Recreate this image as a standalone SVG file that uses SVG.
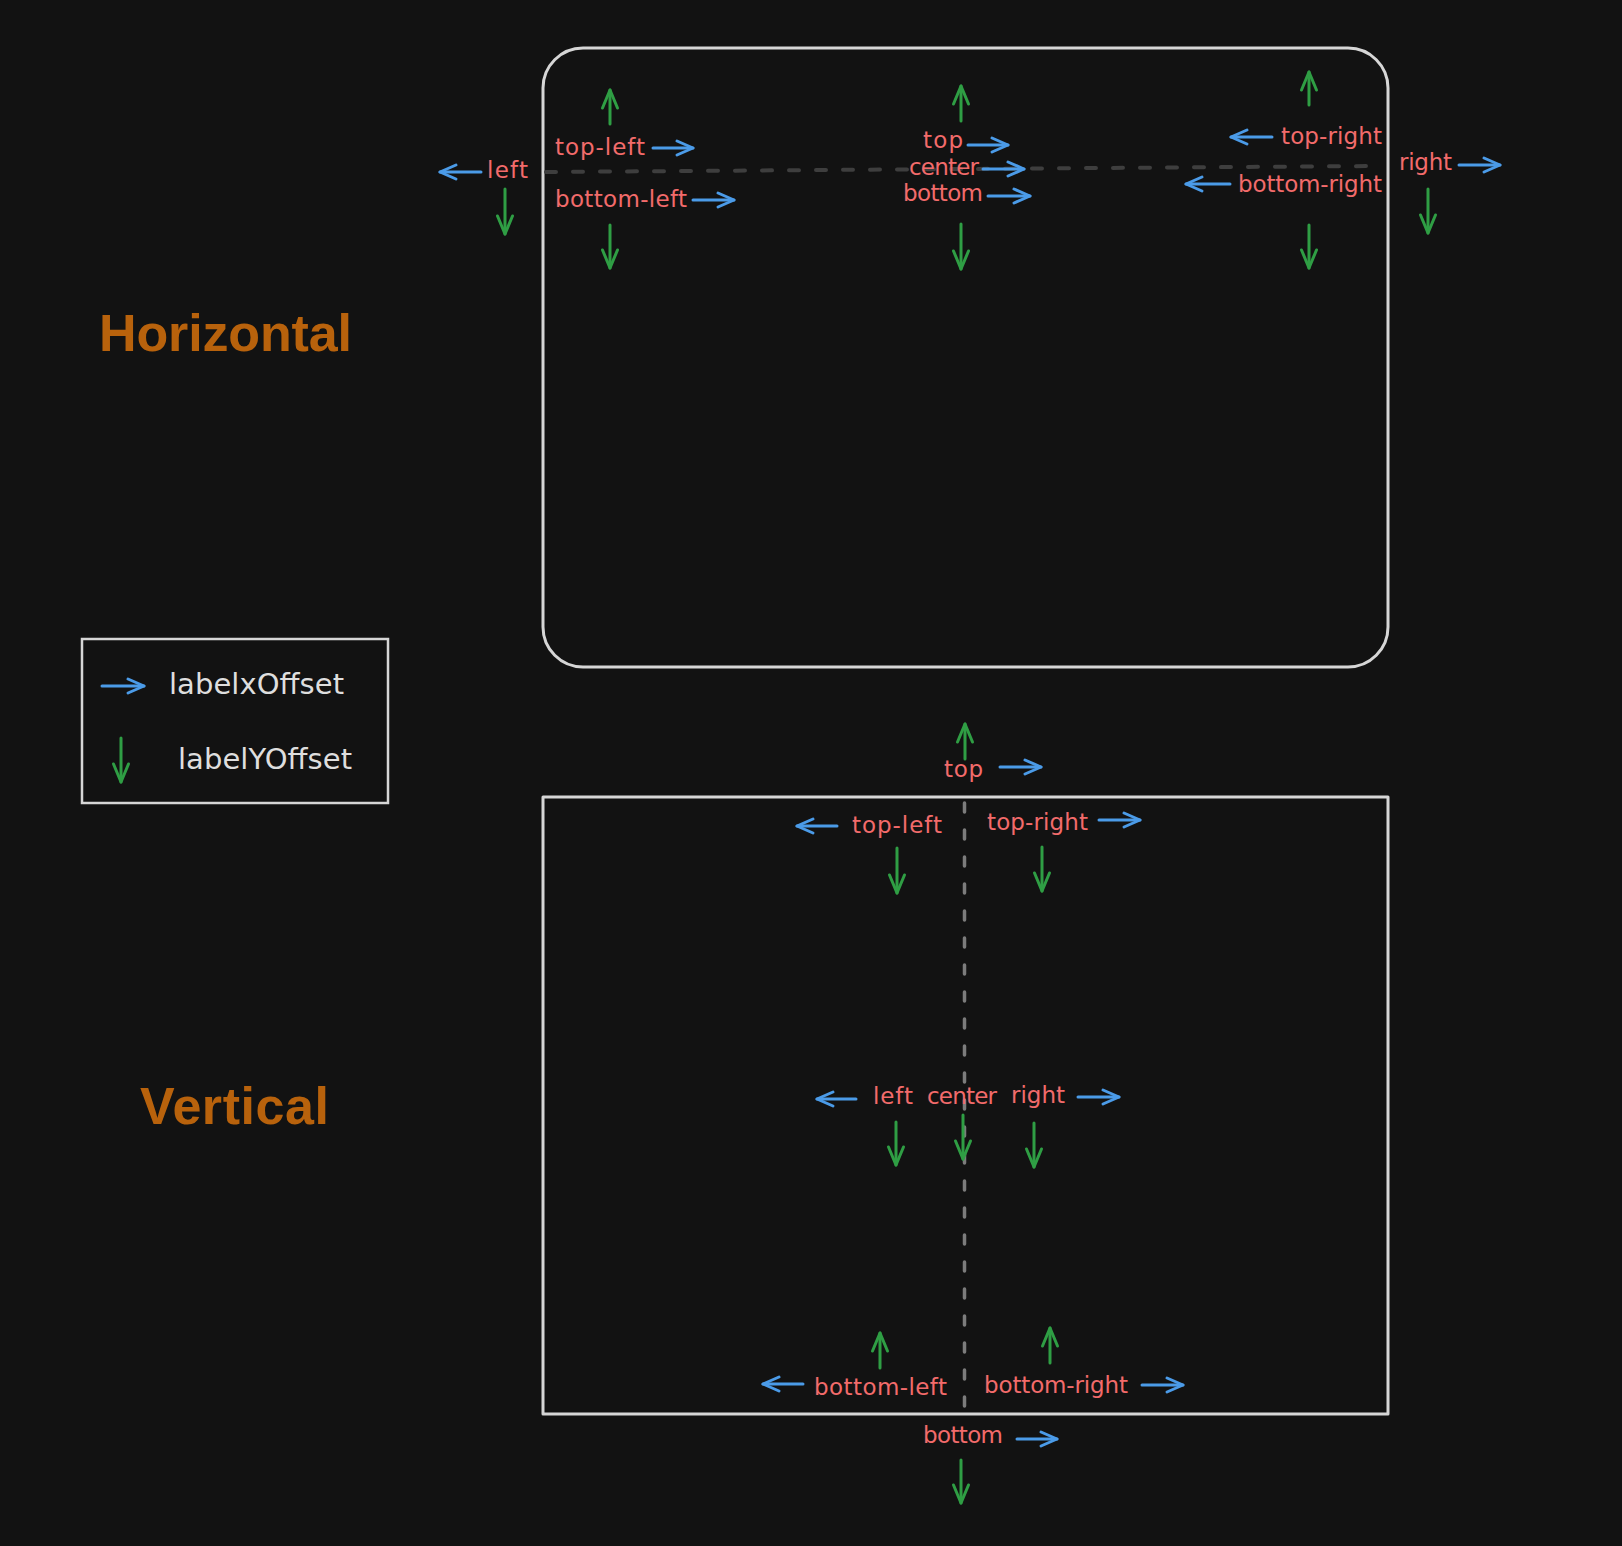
<svg xmlns="http://www.w3.org/2000/svg" width="1622" height="1546" viewBox="0 0 1622 1546">
<defs>
<style>
.frame{fill:none;stroke:#d6d6d6;stroke-width:3;stroke-linejoin:round}
.lbl{font-family:"DejaVu Sans","Noto Sans",sans-serif;font-size:23px;fill:#f26b6b}
.leg{font-family:"DejaVu Sans","Noto Sans",sans-serif;font-size:29px;fill:#dedede}
.title{font-family:"Liberation Sans",Arial,sans-serif;font-weight:bold;font-size:52px;fill:#b8620c}
.bx{fill:none;stroke:#4b9be8;stroke-width:3;stroke-linecap:round;marker-end:url(#hb)}
.gy{fill:none;stroke:#2f9e44;stroke-width:3;stroke-linecap:round;marker-end:url(#hg)}
</style>
<marker id="hb" viewBox="-20 -10 22 20" refX="0" refY="0" markerWidth="22" markerHeight="20" orient="auto" markerUnits="userSpaceOnUse">
<path d="M-16,-7 L0,0 L-16,7" fill="none" stroke="#4b9be8" stroke-width="3" stroke-linecap="round" stroke-linejoin="round"/>
</marker>
<marker id="hg" viewBox="-20 -10 22 20" refX="0" refY="0" markerWidth="22" markerHeight="20" orient="auto" markerUnits="userSpaceOnUse">
<path d="M-18,-7.5 L0,0 L-18,7.5" fill="none" stroke="#2f9e44" stroke-width="3" stroke-linecap="round" stroke-linejoin="round"/>
</marker>
</defs>
<rect x="0" y="0" width="1622" height="1546" fill="#121212"/>

<g id="titles">
<text id="title-horizontal" class="title" x="99" y="351" textLength="253">Horizontal</text>
<text id="title-vertical" class="title" x="140" y="1124" textLength="189">Vertical</text>
</g>

<g id="horizontal-frame">
<rect class="frame" x="543" y="48" width="845" height="619" rx="40" ry="40"/>
<line x1="546" y1="172" x2="1376" y2="166" stroke="#3e3e3e" stroke-width="4" stroke-dasharray="10 17" stroke-linecap="round"/>
</g>

<g id="vertical-frame">
<rect class="frame" x="543" y="797" width="845" height="617"/>
<line x1="964.5" y1="803" x2="964.5" y2="1412" stroke="#7c7c7c" stroke-width="3.5" stroke-dasharray="9 18" stroke-linecap="round"/>
</g>

<g id="legend">
<rect x="82" y="639" width="306" height="164" fill="none" stroke="#d6d6d6" stroke-width="2.5"/>
<text class="leg" x="169" y="694" textLength="175">labelxOffset</text>
<text class="leg" x="178" y="769" textLength="174">labelYOffset</text>
</g>

<g id="h-left"><text class="lbl" x="487" y="178" textLength="41">left</text></g>
<g id="h-top-left"><text class="lbl" x="555" y="155" textLength="90">top-left</text></g>
<g id="h-bottom-left"><text class="lbl" x="555" y="207" textLength="132">bottom-left</text></g>
<g id="h-top"><text class="lbl" x="923" y="148" textLength="40">top</text></g>
<g id="h-center"><text class="lbl" x="909" y="175" textLength="70">center</text></g>
<g id="h-bottom"><text class="lbl" x="903" y="201" textLength="80">bottom</text></g>
<g id="h-top-right"><text class="lbl" x="1281" y="144" textLength="101">top-right</text></g>
<g id="h-bottom-right"><text class="lbl" x="1238" y="192" textLength="144">bottom-right</text></g>
<g id="h-right"><text class="lbl" x="1399" y="170" textLength="53">right</text></g>

<g id="v-top"><text class="lbl" x="944" y="777" textLength="39">top</text></g>
<g id="v-top-left"><text class="lbl" x="852" y="833" textLength="90">top-left</text></g>
<g id="v-top-right"><text class="lbl" x="987" y="830" textLength="101">top-right</text></g>
<g id="v-left"><text class="lbl" x="873" y="1104" textLength="40">left</text></g>
<g id="v-center"><text class="lbl" x="927" y="1104" textLength="70">center</text></g>
<g id="v-right"><text class="lbl" x="1011" y="1103" textLength="54">right</text></g>
<g id="v-bottom-left"><text class="lbl" x="814" y="1395" textLength="133">bottom-left</text></g>
<g id="v-bottom-right"><text class="lbl" x="984" y="1393" textLength="144">bottom-right</text></g>
<g id="v-bottom"><text class="lbl" x="923" y="1443" textLength="80">bottom</text></g>

<g id="connectors">
<path class="bx" d="M481,172 L440,172"/>
<path class="bx" d="M653,148 L693,148"/>
<path class="bx" d="M693,200 L734,200"/>
<path class="bx" d="M968,145 L1008,145"/>
<path class="bx" d="M983,169 L1024,169"/>
<path class="bx" d="M988,196 L1030,196"/>
<path class="bx" d="M1272,137 L1231,137"/>
<path class="bx" d="M1230,184 L1186,184"/>
<path class="bx" d="M1459,165 L1500,165"/>
<path class="gy" d="M505,189 L505,234"/>
<path class="gy" d="M610,124 L610,90"/>
<path class="gy" d="M610,225 L610,268"/>
<path class="gy" d="M961,121 L961,86"/>
<path class="gy" d="M961,224 L961,269"/>
<path class="gy" d="M1309,105 L1309,72"/>
<path class="gy" d="M1309,225 L1309,268"/>
<path class="gy" d="M1428,189 L1428,233"/>

<path class="bx" d="M1000,767 L1041,767"/>
<path class="bx" d="M837,826 L797,826"/>
<path class="bx" d="M1099,820 L1140,820"/>
<path class="bx" d="M856,1099 L817,1099"/>
<path class="bx" d="M1078,1097 L1119,1097"/>
<path class="bx" d="M803,1384 L763,1384"/>
<path class="bx" d="M1142,1385 L1183,1385"/>
<path class="bx" d="M1017,1439 L1057,1439"/>
<path class="gy" d="M965,759 L965,724"/>
<path class="gy" d="M897,848 L897,893"/>
<path class="gy" d="M1042,847 L1042,891"/>
<path class="gy" d="M896,1122 L896,1165"/>
<path class="gy" d="M963,1115 L963,1159"/>
<path class="gy" d="M1034,1123 L1034,1167"/>
<path class="gy" d="M880,1368 L880,1333"/>
<path class="gy" d="M1050,1363 L1050,1328"/>
<path class="gy" d="M961,1460 L961,1503"/>

<path class="bx" d="M102,686 L144,686"/>
<path class="gy" d="M121,738 L121,782"/>
</g>
</svg>
